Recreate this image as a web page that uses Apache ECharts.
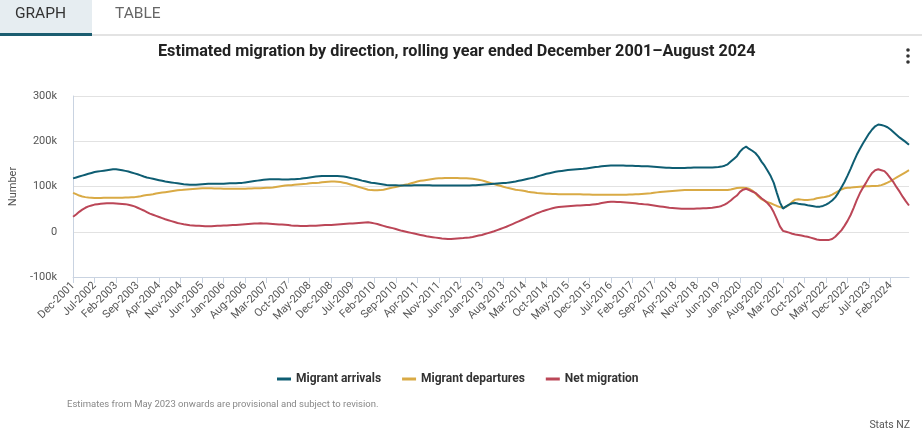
<!DOCTYPE html>
<html>
<head>
<meta charset="utf-8">
<script src="https://cdn.jsdelivr.net/npm/echarts@6/dist/echarts.min.js"></script>
<style>
html,body{margin:0;padding:0;background:#fff;}
#wrap{position:relative;width:922px;height:436px;overflow:hidden;font-family:Roboto,"Open Sans",sans-serif;}
#tabs{position:absolute;left:0;top:0;width:922px;height:36px;}
.tab{position:absolute;top:0;height:33px;line-height:27px;font-size:15.5px;}
#tg{left:0;width:77px;padding-left:15px;background:#e6edf1;color:#333;border-bottom:3px solid #1b5d70;}
#tt{left:115px;color:#666;}
#tline{position:absolute;left:92px;top:34px;width:830px;height:2px;background:#e3e3e3;}
#chart{position:absolute;left:0;top:0;width:922px;height:436px;}
</style>
</head>
<body>
<div id="wrap">
<div id="chart"></div>
<div id="tabs"><div class="tab" id="tg">GRAPH</div><div class="tab" id="tt">TABLE</div><div id="tline"></div></div>
</div>
<script>
// Monthly, rolling year ended Dec-2001 ... Aug-2024 (values in thousands)
const startYear = 2001, startMonth = 11; // Dec-2001
const monthNames = ['Jan','Feb','Mar','Apr','May','Jun','Jul','Aug','Sep','Oct','Nov','Dec'];

const arrivals = [118,
  120,122,124,126,128,130,132,133,134,135,136,137,
  138,138,137,136,134.5,133,131,129,127,124.5,122,120,
  118.5,117,115.5,114,112.5,111,110,109,108,107,106,105,
  104.5,104,104,104,104.5,105,105.5,106,106,106,106,106,
  106,106.5,107,107,107,107.5,108,109,110,111,112,113,
  114,115,115.5,116,116,116,116,115.5,115.5,115.5,116,116,
  116.5,117,118,119,120,121,122,122.5,123,123,123,123,
  123,123,122.5,122,121,119.5,118,116.5,115,113,111.5,110,
  108.5,107.5,106.5,105.5,104.5,103.5,103,102.5,102.5,102,102,102,
  102,102,102.5,103,103,103,102.5,102.5,102,102,102,102,
  102,102,102,102,102,102,102,102,102,102.5,103,103.5,
  104,104.5,105,105.5,106,106.5,107,107.5,108,109,110,111,
  112.5,114,115.5,117,118.5,120,122,124,126,128,129.5,131,
  132.5,133.5,134.5,135.5,136.5,137,137.5,138,138.5,139,140,141,
  142,143,143.5,144.5,145.5,146,146.5,146.5,146.5,146.5,146.5,146,
  146,146,145.5,145.5,145,145,144.5,144,143.5,143,142.5,142,
  141.5,141.5,141,141,141,141,141,141.5,141.5,142,142,142,
  142,142,142,142,142.5,143,144,146,149,155,161,167,
  177,184,188,183,179,174,166,155,146,135,123,108,
  86,65,51,56,60,63,63.5,62,61,60,58.5,57.5,
  56.5,55,55.5,57,60,64,69,76,86,98,110,124,
  139,155,170,183,195,206,217,226,233,237,236,234,
  231,226,220,214,208,203,198,192];

const departures = [86,
  83,80,78,76.5,75.5,75,74.5,74.5,74.5,75,75,75,
  75,75,75,75,75.5,75.5,76,76.5,77.5,78.5,80,81,
  82,83,84.5,85.5,86.5,87.5,88.5,89.5,90.5,91.5,92,93,
  93.5,94,94.5,95,95.5,96,96,96,96,95.5,95.5,95.5,
  95,95,95,95,95,95,95,95,95.5,95.5,96,96,
  96,96.5,97,97.5,98,99,100,101,102,102.5,103,104,
  104.5,105,105.5,106,107,107.5,108,108.5,109.5,110,110.5,111,
  111,110.5,110,108.5,107,105,103,101,99,97,95,93,
  92,91.5,91.5,92,93,94.5,96,97.5,99,100.5,102,104,
  105,107,109,111,112.5,113.5,114.5,115.5,116.5,117.5,118,118.5,
  119,119,119,119,119,118.5,118.5,118,117.5,117,116,115,
  113.5,111.5,109.5,107.5,105.5,103.5,101.5,99.5,97.5,96,94.5,93,
  92,91,90,88.5,87.5,86.5,85.5,85,84.5,84,84,83.5,
  83.5,83,83,83,83,83,83,83,83,82.5,82.5,82.5,
  82,82,82,82,82,82,81.5,81.5,81.5,81.5,82,82,
  82.5,82.5,83,83,83.5,84,84.5,85,86,87,88,88.5,
  89,89.5,90,90.5,91,91.5,92,92,92.5,92.5,92.5,92.5,
  92.5,92.5,92.5,92.5,92.5,92,92,92,92.5,93.5,95,96.5,
  97,97.5,96.5,95,91,85,78,72,68,65.5,63,60,
  57,54.5,53,55,60,66,71,72,71,70,70,71,
  72,74,75,76,77.5,79,82,86,90,93.5,96,97,
  97.5,98.5,99,99.5,100,100.5,100.5,101,101,101.5,103,105.5,
  108.5,112,116,120,124,128,132,136];

const netMigration = [33,
  38,44,49,53,56,58,60,61,62,62.5,63,63,
  63,62.5,62,61.5,61,59.5,58,56,53,50,47,43.5,
  40,37.5,35,32.5,30,27.5,25.5,23.5,21.5,19.5,18,16.5,
  15.5,14.5,14,13.5,13,12.5,12,12,12,12.5,13,13.5,
  14,14,14.5,15,15,15.5,16,16.5,17,17.5,18,18.5,
  19,18.5,18,17.5,17,16.5,16,16,15.5,15,14,13.5,
  13,12.5,12.5,12.5,13,13,13.5,14,14.5,15,15,15,
  15.5,16,16.5,17,17.5,18,18.5,19,19.5,20,20.5,21,
  20,18.5,17,15,13,11,9.5,8,6,4,2,0.5,
  -1,-2.5,-4,-5.5,-7,-8.5,-10,-11,-12,-13,-14,-15,
  -15.5,-16,-16,-15.5,-15,-14.5,-14,-13,-12.5,-11.5,-10,-8.5,
  -7,-5,-3,-1,1,3.5,6,8.5,11,14,17,20,
  23,26,29,32,35,38,41,43.5,46,48,50,52,
  53.5,54.5,55.5,56,56.5,57,57.5,58,58,58.5,59,59,
  60,61,62,63.5,64.5,65.5,66.5,66.5,66,65.5,65,64.5,
  64,63.5,63,62,61.5,60.5,60,59,58,57,56,55,
  54,53,52.5,52,51.5,51,51,51,51,51,51.5,51.5,
  52,52,52.5,53,54,55,57,60,64,69,75,80,
  88,93,95,92,89,86,80,74,69,63,55,43,
  28,12,2,0,-2,-4.5,-6,-7,-8.5,-10,-11,-13,
  -15,-17,-18,-18.5,-18.5,-18,-16,-11,-4,3,13,24,
  37,53,70,85,97,108,120,130,136,138,136,134,
  127,118,109,98,88,77,67,58];

const yTicks = [-100, 0, 100, 200, 300];

const categories = [];
for (let i = 0; i < arrivals.length; i++) {
  const t = startMonth + i;
  categories.push(monthNames[t % 12] + '-' + (startYear + Math.floor(t / 12)));
}

const colors = { arr: '#0e5d72', dep: '#d9aa45', net: '#bb4657' };
const FONT = 'Roboto, "Open Sans", sans-serif';

const chart = echarts.init(document.getElementById('chart'), null, { renderer: 'canvas' });
chart.setOption({
  animation: false,
  textStyle: { fontFamily: FONT },
  grid: { left: 68, right: 13, top: 96, bottom: 159, containLabel: false },
  legend: {
    left: 272, top: 368,
    icon: 'rect', itemWidth: 14, itemHeight: 3, itemGap: 21,
    textStyle: { fontSize: 12, fontWeight: 'bold', color: '#333', fontFamily: FONT },
    data: ['Migrant arrivals', 'Migrant departures', 'Net migration']
  },
  xAxis: {
    type: 'category',
    data: categories,
    boundaryGap: false,
    axisLine: { show: true, onZero: false, lineStyle: { color: '#c9d3e1', width: 1 } },
    axisTick: { show: true, interval: 6, length: 6, lineStyle: { color: '#c9d3e1' } },
    axisLabel: { interval: 6, rotate: 45, margin: 7, fontSize: 11, color: '#555', fontFamily: FONT },
    splitLine: { show: false }
  },
  yAxis: {
    type: 'value',
    min: yTicks[0], max: yTicks[yTicks.length - 1], interval: 100,
    name: 'Number', nameLocation: 'middle', nameGap: 50, nameRotate: 90,
    nameTextStyle: { fontSize: 11, color: '#555', fontFamily: FONT },
    axisLine: { show: true, lineStyle: { color: '#c9d3e1', width: 1 } },
    axisTick: { show: false },
    axisLabel: {
      margin: 16, fontSize: 11, color: '#555', fontFamily: FONT,
      formatter: v => (v === 0 ? '0' : v + 'k')
    },
    splitLine: { show: true, lineStyle: { color: '#e2e2e2', width: 1 } }
  },
  series: [
    { name: 'Migrant arrivals', type: 'line', data: arrivals, showSymbol: false, symbol: 'none',
      lineStyle: { width: 2, color: colors.arr }, itemStyle: { color: colors.arr }, z: 3 },
    { name: 'Migrant departures', type: 'line', data: departures, showSymbol: false, symbol: 'none',
      lineStyle: { width: 2, color: colors.dep }, itemStyle: { color: colors.dep }, z: 2 },
    { name: 'Net migration', type: 'line', data: netMigration, showSymbol: false, symbol: 'none',
      lineStyle: { width: 2, color: colors.net }, itemStyle: { color: colors.net }, z: 4 }
  ],
  graphic: [
    { type: 'text', left: 158, top: 44,
      style: { text: 'Estimated migration by direction, rolling year ended December 2001\u2013August 2024',
        fontSize: 16.2, fontWeight: 'bold', fill: '#222', fontFamily: FONT } },
    { type: 'circle', shape: { cx: 908, cy: 50, r: 1.8 }, style: { fill: '#333' } },
    { type: 'circle', shape: { cx: 908, cy: 56, r: 1.8 }, style: { fill: '#333' } },
    { type: 'circle', shape: { cx: 908, cy: 62, r: 1.8 }, style: { fill: '#333' } },
    { type: 'text', left: 67, top: 400,
      style: { text: 'Estimates from May 2023 onwards are provisional and subject to revision.',
        fontSize: 9.5, fill: '#888', fontFamily: FONT } },
    { type: 'text', right: 12, top: 420,
      style: { text: 'Stats NZ', fontSize: 10.5, fill: '#555', fontFamily: FONT } }
  ]
});
</script>
</body>
</html>
